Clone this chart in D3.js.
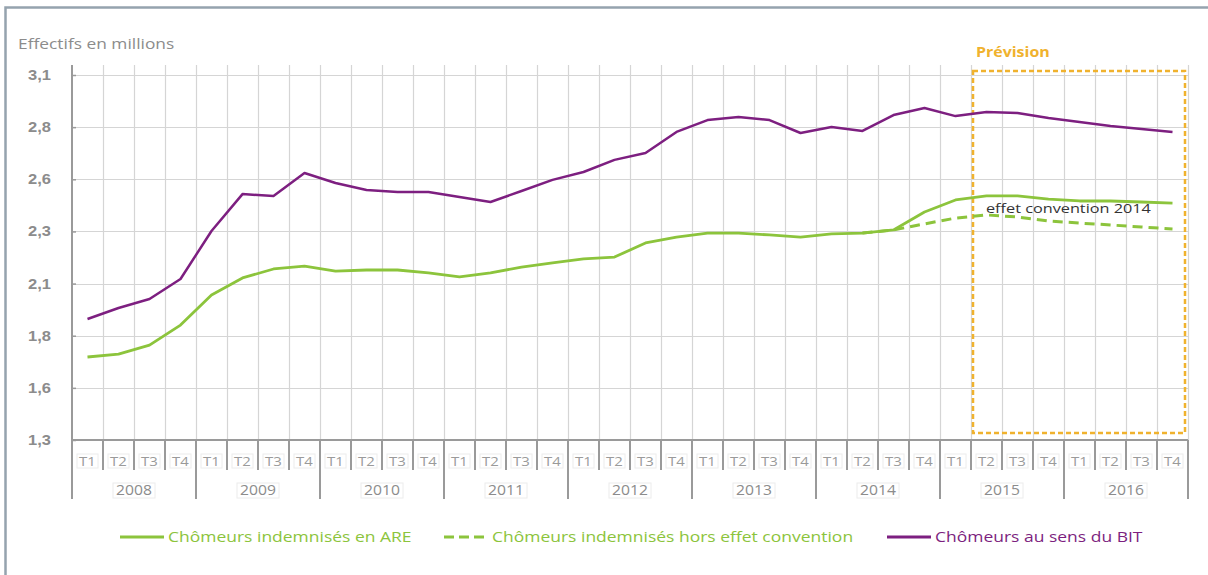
<!DOCTYPE html>
<html>
<head>
<meta charset="utf-8">
<script src="https://cdn.jsdelivr.net/npm/d3@7"></script>
<style>
  html, body { margin: 0; padding: 0; background: #ffffff; }
  svg { display: block; font-family: "Open Sans", "DejaVu Sans", sans-serif; }
</style>
</head>
<body>
<svg id="chart" width="1208" height="575"></svg>
<script>
// Années et trimestres
const years = ["2008", "2009", "2010", "2011", "2012", "2013", "2014", "2015", "2016"];
const quarterNames = ["T1", "T2", "T3", "T4"];

// Axe des ordonnées (effectifs en millions)
const yTickValues = [1.3, 1.55, 1.8, 2.05, 2.3, 2.55, 2.8, 3.05];
const yTickLabels = ["1,3", "1,6", "1,8", "2,1", "2,3", "2,6", "2,8", "3,1"];

// Chômeurs au sens du BIT, 2008 T1 -> 2016 T4
const bit = [
  1.880, 1.933, 1.976, 2.072,
  2.302, 2.479, 2.470, 2.580,
  2.532, 2.499, 2.489, 2.489,
  2.465, 2.441, 2.494, 2.547,
  2.585, 2.643, 2.676, 2.777,
  2.834, 2.849, 2.834, 2.772,
  2.801, 2.782, 2.858, 2.892,
  2.853, 2.873, 2.868, 2.844,
  2.825, 2.806, 2.791, 2.777
];

// Chômeurs indemnisés en ARE, 2008 T1 -> 2016 T4
const are = [
  1.698, 1.712, 1.755, 1.851,
  1.995, 2.077, 2.120, 2.134,
  2.110, 2.115, 2.115, 2.101,
  2.082, 2.101, 2.129, 2.149,
  2.168, 2.177, 2.245, 2.273,
  2.292, 2.292, 2.283, 2.273,
  2.288, 2.292, 2.307, 2.393,
  2.451, 2.470, 2.470, 2.455,
  2.446, 2.446, 2.441, 2.436
];

// Chômeurs indemnisés hors effet convention, 2014 T2 -> 2016 T4
const horsConventionStart = 25;
const horsConvention = [
  2.292, 2.307, 2.336,
  2.364, 2.379, 2.369, 2.350,
  2.340, 2.331, 2.321, 2.312
];

// Période de prévision : 2015 T2 -> 2016 T4
const forecastFrom = "2015 T2";
const forecastTo = "2016 T4";

const colors = {
  bit: "#7d1f80",
  are: "#8cc43c",
  gold: "#f0b22e",
  axis: "#9a9a9a",
  grid: "#d5d5d5",
  label: "#8c8c8c"
};

// Police légèrement élargie horizontalement
const wide = (sx) => `scale(${sx},1)`;

const quarters = [];
years.forEach(y => quarterNames.forEach(q => quarters.push({ key: y + " " + q, year: y, q: q })));

const svg = d3.select("#chart");

// Cadre
svg.append("rect").attr("x", 0).attr("y", 0).attr("width", 1208).attr("height", 575).attr("fill", "#ffffff");
svg.append("path")
  .attr("d", "M5.5,575 V7.5 H1208")
  .attr("fill", "none").attr("stroke", "#95a3ae").attr("stroke-width", 2.5);

const x = d3.scaleBand().domain(quarters.map(d => d.key)).range([72, 1188]).padding(0);
const y = d3.scaleLinear().domain([1.3, 3.05]).range([440, 75]);
const xc = k => x(k) + x.bandwidth() / 2;
const gridTop = 65;

// Limites des trimestres (la première et la dernière ouvrent/ferment une année)
const boundaries = quarters.map((d, i) => ({ x: x(d.key), yearStart: i % 4 === 0 }));
boundaries.push({ x: x(quarters[quarters.length - 1].key) + x.bandwidth(), yearStart: true });

// Grille horizontale
svg.append("g").selectAll("line").data(yTickValues.slice(1)).join("line")
  .attr("x1", 72).attr("x2", 1188)
  .attr("y1", d => Math.round(y(d)) + 0.5).attr("y2", d => Math.round(y(d)) + 0.5)
  .attr("stroke", colors.grid).attr("stroke-width", 1);

// Grille verticale
svg.append("g").selectAll("line").data(boundaries.slice(1)).join("line")
  .attr("x1", d => Math.round(d.x) + 0.5).attr("x2", d => Math.round(d.x) + 0.5)
  .attr("y1", gridTop).attr("y2", 440)
  .attr("stroke", colors.grid).attr("stroke-width", 1.2);

// Axe des ordonnées
const yAxis = d3.axisRight(y).tickValues(yTickValues).tickSize(4)
  .tickFormat((d, i) => yTickLabels[i]);
const gy = svg.append("g").attr("transform", "translate(72,0)").call(yAxis);
gy.select(".domain").remove();
gy.selectAll(".tick line").attr("stroke", colors.axis).attr("stroke-width", 1.5);
gy.selectAll(".tick text")
  .attr("x", 0).attr("text-anchor", "end")
  .attr("transform", `translate(-21,0) ${wide(1.18)}`)
  .attr("fill", colors.label).attr("font-size", 14).attr("font-weight", "bold");
svg.append("line").attr("x1", 72).attr("x2", 72).attr("y1", gridTop).attr("y2", 440)
  .attr("stroke", colors.axis).attr("stroke-width", 2);

svg.append("text").attr("transform", `translate(18,49) ${wide(1.24)}`)
  .attr("fill", colors.label).attr("font-size", 14)
  .text("Effectifs en millions");

// Axe des abscisses : trimestres et années
svg.append("line").attr("x1", 72).attr("x2", 1188).attr("y1", 440).attr("y2", 440)
  .attr("stroke", colors.axis).attr("stroke-width", 2);

svg.append("g").selectAll("line").data(boundaries).join("line")
  .attr("x1", d => Math.round(d.x)).attr("x2", d => Math.round(d.x))
  .attr("y1", 440).attr("y2", d => d.yearStart ? 499 : 470)
  .attr("stroke", colors.axis).attr("stroke-width", 2);

const qg = svg.append("g").selectAll("g").data(quarters).join("g")
  .attr("transform", d => `translate(${xc(d.key)},461)`);
qg.append("rect").attr("x", -10.5).attr("y", -7).attr("width", 21).attr("height", 14)
  .attr("fill", "none").attr("stroke", "#ececec").attr("stroke-width", 1);
qg.append("text").attr("text-anchor", "middle").attr("dy", "0.35em")
  .attr("transform", wide(1.15))
  .attr("fill", "#9a9a9a").attr("font-size", 13).text(d => d.q);

const yg = svg.append("g").selectAll("g").data(years).join("g")
  .attr("transform", d => `translate(${(x(d + " T1") + x(d + " T4") + x.bandwidth()) / 2},490)`);
yg.append("rect").attr("x", -21).attr("y", -7).attr("width", 42).attr("height", 15)
  .attr("fill", "none").attr("stroke", "#ececec").attr("stroke-width", 1);
yg.append("text").attr("text-anchor", "middle").attr("dy", "0.35em")
  .attr("transform", wide(1.12))
  .attr("fill", "#8c8c8c").attr("font-size", 14).text(d => d);

// Cadre de prévision
const fx0 = x(forecastFrom) + 2;
const fx1 = x(forecastTo) + x.bandwidth() - 3;
svg.append("rect")
  .attr("x", fx0).attr("y", 71).attr("width", fx1 - fx0).attr("height", 433 - 71)
  .attr("fill", "none").attr("stroke", colors.gold).attr("stroke-width", 2.5)
  .attr("stroke-dasharray", "5,3");
svg.append("text").attr("transform", `translate(${fx0 + 3},57) ${wide(1.14)}`)
  .attr("fill", colors.gold).attr("font-size", 14).attr("font-weight", "bold")
  .text("Prévision");

// Séries
const line = d3.line().x(d => xc(d.key)).y(d => y(d.v));
const bitData = bit.map((v, i) => ({ key: quarters[i].key, v }));
const areData = are.map((v, i) => ({ key: quarters[i].key, v }));
const hcData = horsConvention.map((v, i) => ({ key: quarters[horsConventionStart + i].key, v }));

svg.append("path").datum(hcData).attr("d", line)
  .attr("fill", "none").attr("stroke", colors.are).attr("stroke-width", 3)
  .attr("stroke-dasharray", "10,6");
svg.append("path").datum(areData).attr("d", line)
  .attr("fill", "none").attr("stroke", colors.are).attr("stroke-width", 2.8)
  .attr("stroke-linejoin", "round");
svg.append("path").datum(bitData).attr("d", line)
  .attr("fill", "none").attr("stroke", colors.bit).attr("stroke-width", 2.5)
  .attr("stroke-linejoin", "round");

svg.append("text").attr("transform", `translate(986,213) ${wide(1.25)}`)
  .attr("fill", "#333333").attr("font-size", 13)
  .text("effet convention 2014");

// Légende
const legend = [
  { label: "Chômeurs indemnisés en ARE", color: colors.are, dash: null, x: 120 },
  { label: "Chômeurs indemnisés hors effet convention", color: colors.are, dash: "10,5", x: 444 },
  { label: "Chômeurs au sens du BIT", color: colors.bit, dash: null, x: 887 }
];
const lg = svg.append("g").selectAll("g").data(legend).join("g")
  .attr("transform", d => `translate(${d.x},537)`);
lg.append("line").attr("x1", 0).attr("x2", 44).attr("y1", 0).attr("y2", 0)
  .attr("stroke", d => d.color).attr("stroke-width", 3)
  .attr("stroke-dasharray", d => d.dash);
lg.append("text").attr("dy", "0.35em")
  .attr("transform", `translate(48,0) ${wide(1.25)}`)
  .attr("fill", d => d.color).attr("font-size", 14)
  .text(d => d.label);
</script>
</body>
</html>
